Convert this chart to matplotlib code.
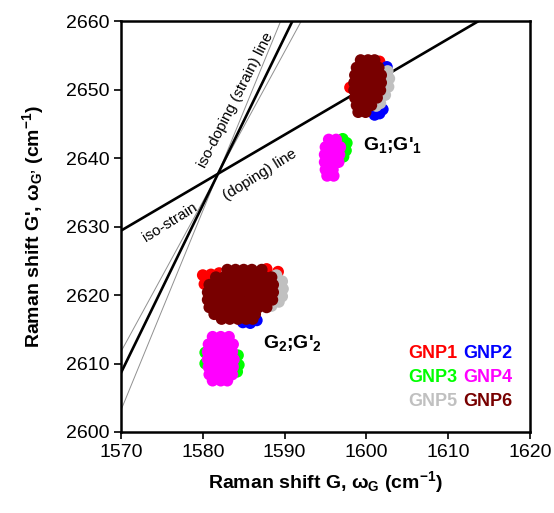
import matplotlib
matplotlib.use("Agg")
import matplotlib.pyplot as plt
import numpy as np

plt.rcParams['font.family'] = ['Liberation Sans', 'DejaVu Sans']
plt.rcParams['mathtext.fontset'] = 'custom'
plt.rcParams['mathtext.rm'] = 'Liberation Sans'
plt.rcParams['mathtext.bf'] = 'Liberation Sans:bold'
plt.rcParams['mathtext.it'] = 'Liberation Sans:italic'

# ---- data (Raman shift G, G') ----
gnp1_x = [1598.0, 1601.6, 1600.0, 1580.0, 1581.0, 1582.0, 1580.2, 1587.8, 1589.2, 1584.0]
gnp1_y = [2650.3, 2654.1, 2650.0, 2622.9, 2623.0, 2623.2, 2621.6, 2623.8, 2623.4, 2620.0]

gnp2_x = [1602.5, 1602.5, 1601.0, 1601.6, 1602.0, 1600.5, 1582.0, 1584.9, 1585.8, 1586.6, 1584.5]
gnp2_y = [2653.3, 2652.4, 2646.3, 2646.5, 2647.1, 2650.0, 2622.3, 2616.0, 2615.9, 2616.3, 2620.0]

gnp3_x = [1597.1, 1597.6, 1597.5, 1597.2, 1596.8, 1595.8, 1580.3, 1580.3, 1584.3, 1584.4, 1584.2, 1582.2]
gnp3_y = [2642.8, 2642.2, 2641.1, 2640.2, 2642.0, 2640.0, 2611.6, 2610.0, 2611.2, 2609.8, 2608.8, 2610.5]

gnp4_x = [1595.4, 1596.3,
          1595.0, 1595.9, 1596.8,
          1594.9, 1595.8, 1596.7,
          1594.9, 1595.8, 1596.6,
          1595.0, 1595.9,
          1595.2, 1596.0,
          1581.2, 1582.2, 1583.2,
          1580.7, 1581.7, 1582.7, 1583.7,
          1580.6, 1581.6, 1582.6, 1583.6,
          1580.6, 1581.6, 1582.6, 1583.8,
          1580.7, 1581.7, 1582.7, 1583.7,
          1580.8, 1581.8, 1582.8, 1583.6,
          1581.2, 1582.2, 1583.0]
gnp4_y = [2642.7, 2642.7,
          2641.6, 2641.6, 2641.6,
          2640.5, 2640.5, 2640.5,
          2639.4, 2639.4, 2639.4,
          2638.3, 2638.3,
          2637.4, 2637.4,
          2613.9, 2613.9, 2613.9,
          2612.8, 2612.8, 2612.8, 2612.8,
          2611.7, 2611.7, 2611.7, 2611.7,
          2610.6, 2610.6, 2610.6, 2610.6,
          2609.5, 2609.5, 2609.5, 2609.5,
          2608.4, 2608.4, 2608.4, 2608.4,
          2607.5, 2607.5, 2607.5]

gnp5_x = [1602.6, 1602.8, 1602.7, 1602.3, 1601.7, 1601.2,
          1583.0, 1589.0, 1589.7, 1589.8, 1589.7, 1589.3, 1588.4]
gnp5_y = [2652.7, 2651.6, 2650.4, 2649.2, 2648.0, 2647.6,
          2623.4, 2622.9, 2622.0, 2620.9, 2619.8, 2619.0, 2618.4]

gnp6_x = [1599.3, 1600.2, 1601.0,
          1598.8, 1599.7, 1600.6, 1601.5,
          1598.6, 1599.5, 1600.4, 1601.3, 1601.8,
          1598.5, 1599.4, 1600.3, 1601.2, 1601.8,
          1598.5, 1599.4, 1600.3, 1601.2, 1601.7,
          1598.6, 1599.5, 1600.4, 1601.3,
          1598.8, 1599.7, 1600.6,
          1599.0, 1599.9,
          1583.0, 1584.0, 1585.0, 1586.0, 1587.2,
          1581.6, 1582.6, 1583.6, 1584.6, 1585.6, 1586.6, 1587.6, 1588.4,
          1580.8, 1581.8, 1582.8, 1583.8, 1584.8, 1585.8, 1586.8, 1587.8, 1588.6,
          1580.6, 1581.6, 1582.6, 1583.6, 1584.6, 1585.6, 1586.6, 1587.6, 1588.6,
          1580.6, 1581.6, 1582.6, 1583.6, 1584.6, 1585.6, 1586.6, 1587.6, 1588.5,
          1580.8, 1581.8, 1582.8, 1583.8, 1584.8, 1585.8, 1586.8, 1587.8,
          1581.4, 1582.4, 1583.4, 1584.4, 1585.4, 1586.4,
          1582.3, 1583.3, 1584.3, 1585.3, 1586.1]
gnp6_y = [2654.3, 2654.3, 2654.3,
          2653.2, 2653.2, 2653.2, 2653.2,
          2652.1, 2652.1, 2652.1, 2652.1, 2652.1,
          2651.0, 2651.0, 2651.0, 2651.0, 2651.0,
          2649.9, 2649.9, 2649.9, 2649.9, 2649.9,
          2648.8, 2648.8, 2648.8, 2648.8,
          2647.7, 2647.7, 2647.7,
          2646.7, 2646.7,
          2623.7, 2623.7, 2623.7, 2623.7, 2623.7,
          2622.6, 2622.6, 2622.6, 2622.6, 2622.6, 2622.6, 2622.6, 2622.6,
          2621.5, 2621.5, 2621.5, 2621.5, 2621.5, 2621.5, 2621.5, 2621.5, 2621.5,
          2620.4, 2620.4, 2620.4, 2620.4, 2620.4, 2620.4, 2620.4, 2620.4, 2620.4,
          2619.3, 2619.3, 2619.3, 2619.3, 2619.3, 2619.3, 2619.3, 2619.3, 2619.3,
          2618.2, 2618.2, 2618.2, 2618.2, 2618.2, 2618.2, 2618.2, 2618.2,
          2617.2, 2617.2, 2617.2, 2617.2, 2617.2, 2617.2,
          2616.5, 2616.5, 2616.5, 2616.5, 2616.5]

names = ['GNP1', 'GNP2', 'GNP3', 'GNP4', 'GNP5', 'GNP6']
colors = ['#ff0000', '#0000ff', '#00ff00', '#ff00ff', '#c0c0c0', '#780000']

# reference lines: crossing point and slopes
x0, y0 = 1581.86, 2637.7
slope_strain = 2.45
slope_strain_lo, slope_strain_hi = 2.19, 2.91
slope_doping = 0.70

fig = plt.figure(figsize=(5.54, 5.13), dpi=100)
ax = fig.add_axes([0.2184, 0.1579, 0.7383, 0.8011])

xs = np.array([1560, 1630])
ax.plot(xs, y0 + slope_strain_lo * (xs - x0), color='#909090', lw=0.7, zorder=1)
ax.plot(xs, y0 + slope_strain_hi * (xs - x0), color='#909090', lw=0.7, zorder=1)
ax.plot(xs, y0 + slope_strain * (xs - x0), color='black', lw=1.9, zorder=2)
ax.plot(xs, y0 + slope_doping * (xs - x0), color='black', lw=1.9, zorder=2)

allx = [gnp1_x, gnp2_x, gnp3_x, gnp4_x, gnp5_x, gnp6_x]
ally = [gnp1_y, gnp2_y, gnp3_y, gnp4_y, gnp5_y, gnp6_y]
for i in range(6):
    ax.scatter(allx[i], ally[i], s=72, color=colors[i], edgecolors='none', zorder=3 + i)

ax.text(1584.0, 2648.4, 'iso-doping (strain) line', rotation=63, fontsize=11,
        ha='center', va='center', rotation_mode='anchor')
ax.text(1587.0, 2637.6, '(doping) line', rotation=32, fontsize=11,
        ha='center', va='center', rotation_mode='anchor')
ax.text(1576.0, 2630.6, 'iso-strain', rotation=32, fontsize=11,
        ha='center', va='center', rotation_mode='anchor')

ax.text(1599.6, 2641.2, r"G$_\mathbf{1}$;G'$_\mathbf{1}$", fontsize=14, fontweight='bold',
        ha='left', va='baseline', zorder=10)
ax.text(1587.4, 2612.3, r"G$_\mathbf{2}$;G'$_\mathbf{2}$", fontsize=14, fontweight='bold',
        ha='left', va='baseline', zorder=10)

leg_x = [1605.1, 1611.8]
leg_y = [2611.5, 2608.0, 2604.4]
for i, nm in enumerate(names):
    ax.text(leg_x[i % 2], leg_y[i // 2], nm, color=colors[i], fontsize=13,
            fontweight='bold', ha='left', va='center', zorder=10)

ax.set_xlim(1570, 1620)
ax.set_ylim(2600, 2660)
ax.set_xticks(np.arange(1570, 1621, 10))
ax.set_yticks(np.arange(2600, 2661, 10))
ax.tick_params(axis='both', labelsize=14, direction='out', length=5, width=1.2)
ax.tick_params(top=False, right=False)
for sp in ax.spines.values():
    sp.set_linewidth(1.8)

ax.set_xlabel(r"Raman shift G, ω$_\mathbf{G}$ (cm$^\mathbf{-1}$)", fontsize=14,
              fontweight='bold', labelpad=6)
ax.set_ylabel(r"Raman shift G', ω$_\mathbf{G’}$ (cm$^\mathbf{-1}$)", fontsize=14,
              fontweight='bold', labelpad=14)

fig.savefig('out.png', dpi=100)
